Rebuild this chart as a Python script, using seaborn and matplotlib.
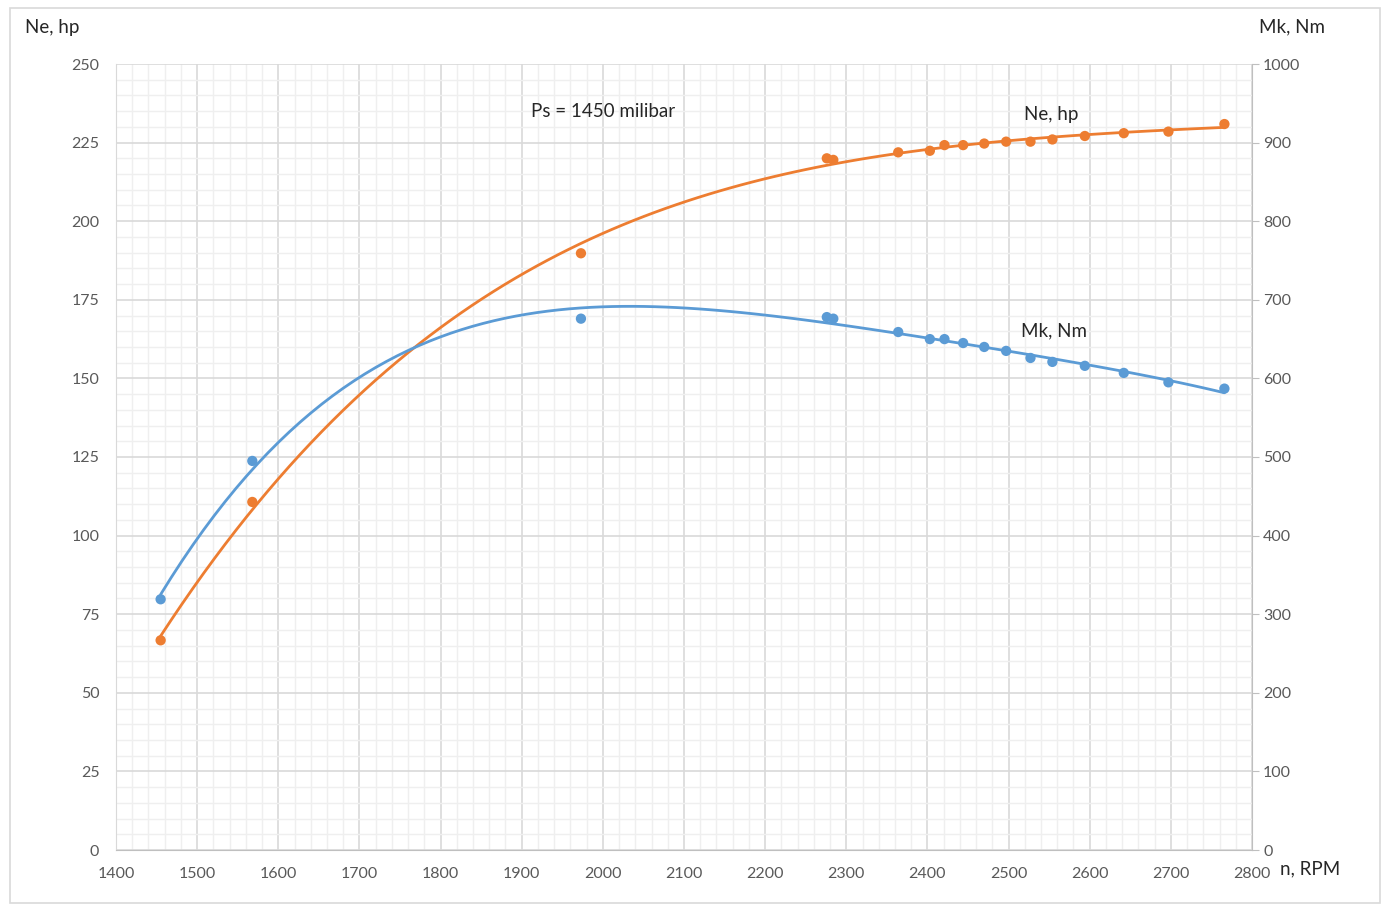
# Engine power / torque curves at Ps = 1450 milibar
import numpy as np
import matplotlib.pyplot as plt
import matplotlib.patches as mpatches
from matplotlib.ticker import MultipleLocator
import seaborn as sns
import pandas as pd

# ---------------------------------------------------
# Data
# ---------------------------------------------------
rpm = [1455, 1568, 1973, 2276, 2284, 2364, 2403, 2421, 2444, 2470,
       2497, 2527, 2554, 2594, 2642, 2697, 2766]
ne_hp = [66.7, 110.7, 189.8, 220.0, 219.5, 221.9, 222.4, 224.2, 224.2, 224.7,
         225.3, 225.3, 226.0, 227.1, 228.0, 228.5, 230.9]
mk_nm = [319, 495, 676, 678, 676, 659, 650, 650, 645, 640,
         635, 626, 621, 616, 607, 595, 587]

df = pd.DataFrame({"rpm": rpm, "ne": ne_hp, "mk": mk_nm})

orange = "#ED7D31"
blue = "#5B9BD5"
tick_col = "#595959"

sns.set_style("white")
plt.rcParams["font.family"] = ["Lato", "DejaVu Sans"]

fig = plt.figure(figsize=(13.82, 9.08), dpi=100)
ax = fig.add_axes([116 / 1382, 1 - 850 / 908, (1252 - 116) / 1382, (850 - 64) / 908])
ax2 = ax.twinx()

# outer chart border
fig.patches.append(mpatches.Rectangle((10 / 1382, 1 - 903 / 908), 1370 / 1382, 895 / 908,
                                      transform=fig.transFigure, fill=False,
                                      edgecolor="#D9D9D9", linewidth=1.2))

# ---------------------------------------------------
# Grid
# ---------------------------------------------------
ax.set_xlim(1400, 2800)
ax.set_ylim(0, 250)
ax2.set_ylim(0, 1000)
ax.xaxis.set_major_locator(MultipleLocator(100))
ax.xaxis.set_minor_locator(MultipleLocator(20))
ax.yaxis.set_major_locator(MultipleLocator(25))
ax.yaxis.set_minor_locator(MultipleLocator(5))
ax2.yaxis.set_major_locator(MultipleLocator(100))
ax.grid(which="major", color="#D9D9D9", linewidth=1.2)
ax.grid(which="minor", color="#EFEFEF", linewidth=1.0)
ax.set_axisbelow(True)

# ---------------------------------------------------
# Power (left axis) and torque (right axis): points + trendlines
# ---------------------------------------------------
sns.regplot(data=df, x="rpm", y="ne", order=4, ci=None, scatter=False, ax=ax,
            line_kws={"color": orange, "linewidth": 2.0})
sns.scatterplot(data=df, x="rpm", y="ne", ax=ax, color=orange, s=55,
                edgecolor="none", zorder=4)
sns.regplot(data=df, x="rpm", y="mk", order=4, ci=None, scatter=False, ax=ax2,
            line_kws={"color": blue, "linewidth": 2.0})
sns.scatterplot(data=df, x="rpm", y="mk", ax=ax2, color=blue, s=55,
                edgecolor="none", zorder=4)

ax.set_xlim(1400, 2800)
ax.set_ylim(0, 250)
ax2.set_ylim(0, 1000)

# ---------------------------------------------------
# Axes styling
# ---------------------------------------------------
for a in (ax, ax2):
    a.set_xlabel("")
    a.set_ylabel("")
    for s in a.spines.values():
        s.set_visible(False)
ax.spines["left"].set_visible(True)
ax.spines["left"].set_color("#D9D9D9")
ax.spines["bottom"].set_visible(True)
ax.spines["bottom"].set_color("#BFBFBF")
ax2.spines["right"].set_visible(True)
ax2.spines["right"].set_color("#BFBFBF")

ax.tick_params(axis="both", which="both", length=0, labelsize=11.5, labelcolor=tick_col)
ax.tick_params(axis="x", pad=12)
ax.tick_params(axis="y", pad=12)
ax2.tick_params(axis="y", which="major", length=5, color="#BFBFBF", labelsize=11.5,
                labelcolor=tick_col, pad=3)

# ---------------------------------------------------
# Texts
# ---------------------------------------------------
fig.text(25 / 1382, 1 - 27 / 908, "Ne, hp", fontsize=13.5, va="center", ha="left")
fig.text(1325 / 1382, 1 - 27 / 908, "Mk, Nm", fontsize=13.5, va="center", ha="right")
fig.text(1280 / 1382, 1 - 869 / 908, "n, RPM", fontsize=13.5, va="center", ha="left")
ax.text(1912, 235, "Ps = 1450 milibar", fontsize=13.5, va="center", ha="left")
ax.text(2519, 234, "Ne, hp", fontsize=13.5, va="center", ha="left")
ax.text(2515, 165, "Mk, Nm", fontsize=13.5, va="center", ha="left")

fig.savefig("out.png", dpi=100, facecolor="white")
